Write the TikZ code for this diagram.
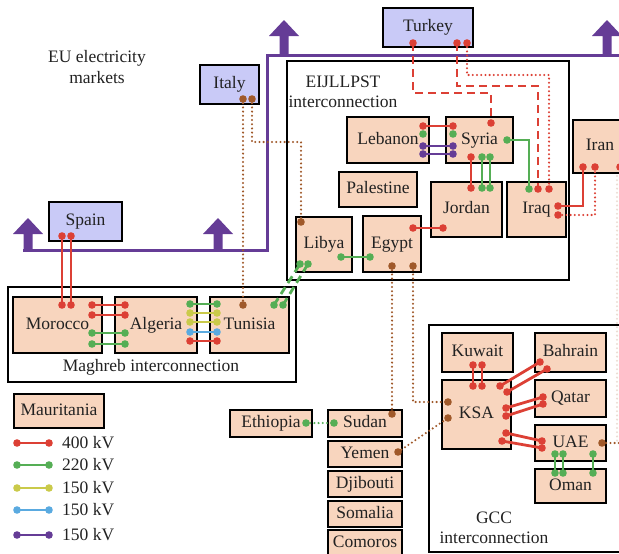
\documentclass[tikz,border=0pt]{standalone}
\usepackage{fontspec}
\setmainfont{Liberation Serif}
\definecolor{peach}{HTML}{F8D5BE}
\definecolor{lav}{HTML}{C9CAF7}
\definecolor{c400}{HTML}{DC4035}
\definecolor{c220}{HTML}{55AE55}
\definecolor{c150y}{HTML}{CACA4A}
\definecolor{c150b}{HTML}{5AAAE0}
\definecolor{c150p}{HTML}{653C96}
\definecolor{dcc}{HTML}{A0592A}
\definecolor{ink}{HTML}{222222}
\newcommand\cfont{\fontsize{17.5}{20.5}\selectfont}
% straight wire with a pin at each end: [extra style]{colour}{from}{to}
\newcommand\wire[4][]{\draw[line width=2.8, draw=#2, #1] #3 -- #4;
  \fill[#2] #3 circle (3.8) #4 circle (3.8);}
\newcommand\pin[2]{\fill[#1] #2 circle (3.8);}
% upward block arrow: centre x, tip y, base y
\newcommand\uparr[3]{\fill[c150p] (#1-4.5,#3) -- (#1-4.5,#2+16) -- (#1-15,#2+16)
  -- (#1,#2) -- (#1+15,#2+16) -- (#1+4.5,#2+16) -- (#1+4.5,#3) -- cycle;}
\tikzset{
  cbox/.style={draw=black, line width=2, fill=peach, inner sep=0, font=\cfont,
    text=ink, text height=12, text depth=4},
  eubox/.style={cbox, fill=lav},
  grp/.style={draw=black, line width=1.7},
  lbl/.style={font=\cfont, align=center, inner sep=0, text=ink},
  dashwire/.style={dash pattern=on 8 off 5},
  dotwire/.style={line width=2.3, line cap=round, dash pattern=on 0 off 4.2},
}
\begin{document}
\begin{tikzpicture}[x=1pt,y=-1pt]
\useasboundingbox (0,0) rectangle (619,554);

% interconnection groups
\draw[grp] (287,61) rectangle (569,280);
\draw[grp] (8,287) rectangle (296,382);
\draw[grp] (429,325) rectangle (630,552);
\node[lbl] (eijl) at (343,92) {EIJLLPST\\interconnection};
\node[lbl] (magh) at (151,367) {Maghreb interconnection};
\node[lbl] (gcc) at (494,528) {GCC\\interconnection};
\node[lbl] (eu) at (97,67) {EU electricity\\markets};

% EU market backbone
\draw[c150p, line width=3] (23,250) -- (267,250) -- (267,55) -- (630,55);
\uparr{28}{218}{250}
\uparr{218}{218}{250}
\uparr{284}{20}{55}
\uparr{607}{20}{55}

% countries
\node[eubox, minimum width=73, minimum height=39] (spain) at (85.5,221.5) {Spain};
\node[eubox, minimum width=59, minimum height=39] (italy) at (229.5,84.5) {Italy};
\node[eubox, minimum width=90, minimum height=39] (turkey) at (428,27.5) {Turkey};
\node[cbox, minimum width=82, minimum height=46] (lebanon) at (388,140) {Lebanon};
\node[cbox, minimum width=67, minimum height=46] (syria) at (479.5,140) {Syria};
\node[cbox, minimum width=78, minimum height=35] (palestine) at (378,189.5) {Palestine};
\node[cbox, minimum width=71, minimum height=55] (jordan) at (466.5,209.5) {Jordan};
\node[cbox, minimum width=59, minimum height=55] (iraq) at (536.5,209.5) {Iraq};
\node[cbox, minimum width=56, minimum height=55] (libya) at (324,244.5) {Libya};
\node[cbox, minimum width=58, minimum height=56] (egypt) at (392,244) {Egypt};
\node[cbox, minimum width=54, minimum height=53] (iran) at (600,146.5) {Iran};
\node[cbox, minimum width=89, minimum height=56] (morocco) at (57.5,325) {Morocco};
\node[cbox, minimum width=82, minimum height=56] (algeria) at (156,325) {Algeria};
\node[cbox, minimum width=79, minimum height=56] (tunisia) at (249.5,325) {Tunisia};
\node[cbox, minimum width=90, minimum height=34] (mauritania) at (59,411) {Mauritania};
\node[cbox, minimum width=82, minimum height=27] (ethiopia) at (271,423.5) {Ethiopia};
\node[cbox, minimum width=74, minimum height=27] (sudan) at (365,423.5) {Sudan};
\node[cbox, minimum width=74, minimum height=26] (yemen) at (365,454) {Yemen};
\node[cbox, minimum width=74, minimum height=26] (djibouti) at (365,484) {Djibouti};
\node[cbox, minimum width=74, minimum height=26] (somalia) at (365,514) {Somalia};
\node[cbox, minimum width=74, minimum height=32, text depth=10] (comoros) at (365,546) {Comoros};
\node[cbox, minimum width=71, minimum height=39] (kuwait) at (477.5,352.5) {Kuwait};
\node[cbox, minimum width=71, minimum height=39] (bahrain) at (570.5,352.5) {Bahrain};
\node[cbox, minimum width=69, minimum height=69] (ksa) at (476.5,414.5) {KSA};
\node[cbox, minimum width=71, minimum height=37] (qatar) at (570.5,398.5) {Qatar};
\node[cbox, minimum width=71, minimum height=36] (uae) at (570.5,443) {UAE};
\node[cbox, minimum width=71, minimum height=34] (oman) at (570.5,486) {Oman};

% Spain -- Morocco
\wire{c400}{(62,236)}{(62,305)}
\wire{c400}{(71,236)}{(71,305)}
% Morocco -- Algeria
\wire{c400}{(92,305)}{(125,305)}
\wire{c400}{(92,315)}{(125,315)}
\wire{c220}{(92,333)}{(125,333)}
\wire{c220}{(92,344)}{(125,344)}
% Algeria -- Tunisia
\wire{c220}{(190,304)}{(217,304)}
\wire{c150y}{(190,313)}{(217,313)}
\wire{c150y}{(190,322)}{(217,322)}
\wire{c150b}{(190,332)}{(217,332)}
\wire{c400}{(190,341)}{(217,341)}
% Tunisia -- Libya
\wire[dashwire]{c220}{(274,305)}{(300,264)}
\wire[dashwire]{c220}{(283,305)}{(308,264)}
% Italy -- Tunisia, Italy -- Libya
\draw[dcc, dotwire] (243,99) -- (243,305);
\draw[dcc, dotwire] (252,99) -- (252,142) -- (301,142) -- (301,222);
\pin{dcc}{(243,99)} \pin{dcc}{(252,99)} \pin{dcc}{(243,305)} \pin{dcc}{(301,222)}

% Turkey -- Syria, Turkey -- Iraq
\draw[c400, line width=2.8, dashwire] (413,43) -- (413,93) -- (491,93) -- (491,123);
\draw[c400, line width=2.8, dashwire] (457,43) -- (457,86) -- (538,86) -- (538,189);
\draw[c400, dotwire] (467,43) -- (467,75) -- (549,75) -- (549,189);
\pin{c400}{(413,43)} \pin{c400}{(457,43)} \pin{c400}{(467,43)}
\pin{c400}{(491,123)} \pin{c400}{(538,189)} \pin{c400}{(549,189)}

% Lebanon -- Syria
\wire{c400}{(423,126)}{(453,126)}
\pin{c220}{(423,134)} \pin{c220}{(453,134)}
\wire{c150p}{(423,146)}{(453,146)}
\wire{c150p}{(423,154)}{(453,154)}
% Syria -- Jordan
\wire{c400}{(471,157)}{(471,188)}
\wire{c220}{(482,157)}{(482,188)}
\wire{c220}{(490,157)}{(490,188)}
% Syria -- Iraq
\draw[c220, line width=2.8] (507,140) -- (529,140) -- (529,189);
\pin{c220}{(507,140)} \pin{c220}{(529,189)}
% Egypt -- Jordan, Libya -- Egypt
\wire{c400}{(413,228)}{(443,228)}
\wire{c220}{(341,257)}{(370,257)}
% Iraq -- Iran
\draw[c400, line width=2.8] (558,206) -- (583,206) -- (583,167);
\pin{c400}{(558,206)} \pin{c400}{(583,167)}
\draw[c400, dotwire] (558,215) -- (595,215) -- (595,167);
\pin{c400}{(558,215)} \pin{c400}{(595,167)}
\pin{c400}{(620,167)}
\draw[dcc, dotwire, opacity=0.2] (617,176) -- (617,443);

% Egypt -- Sudan, Egypt -- KSA, Yemen -- KSA
\draw[dcc, dotwire] (392,266) -- (392,414);
\draw[dcc, dotwire] (413,266) -- (413,402) -- (448,402);
\draw[dcc, dotwire] (398,452) -- (448,418);
\pin{dcc}{(392,266)} \pin{dcc}{(413,266)} \pin{dcc}{(392,414)}
\pin{dcc}{(448,402)} \pin{dcc}{(448,418)} \pin{dcc}{(398,452)}
% Ethiopia -- Sudan
\draw[c220, dotwire] (306,423) -- (334,423);
\pin{c220}{(306,423)} \pin{c220}{(334,423)}

% Kuwait -- KSA
\wire{c400}{(473,365)}{(473,386)}
\wire{c400}{(482,365)}{(482,386)}
% KSA -- Bahrain, Qatar, UAE
\wire{c400}{(500,386)}{(540,362)}
\wire{c400}{(507,392)}{(547,369)}
\wire{c400}{(506,408)}{(543,397)}
\wire{c400}{(506,416)}{(543,404)}
\wire{c400}{(506,433)}{(542,441)}
\wire{c400}{(502,441)}{(542,448)}
% UAE -- Oman
\wire{c220}{(555,454)}{(555,473)}
\wire{c220}{(563,454)}{(563,473)}
\wire{c220}{(593,454)}{(593,473)}
% UAE onward
\draw[dcc, dotwire] (602,443) -- (625,443);
\pin{dcc}{(602,443)}

% legend
\wire{c400}{(17,443)}{(49,443)}
\wire{c220}{(17,465)}{(49,465)}
\wire{c150y}{(17,488)}{(49,488)}
\wire{c150b}{(17,510)}{(49,510)}
\wire{c150p}{(17,535)}{(49,535)}
\node[lbl, anchor=west] (k400) at (62,443) {400 kV};
\node[lbl, anchor=west] (k220) at (62,465) {220 kV};
\node[lbl, anchor=west] (k150y) at (62,488) {150 kV};
\node[lbl, anchor=west] (k150b) at (62,510) {150 kV};
\node[lbl, anchor=west] (k150p) at (62,535) {150 kV};
\end{tikzpicture}
\end{document}
